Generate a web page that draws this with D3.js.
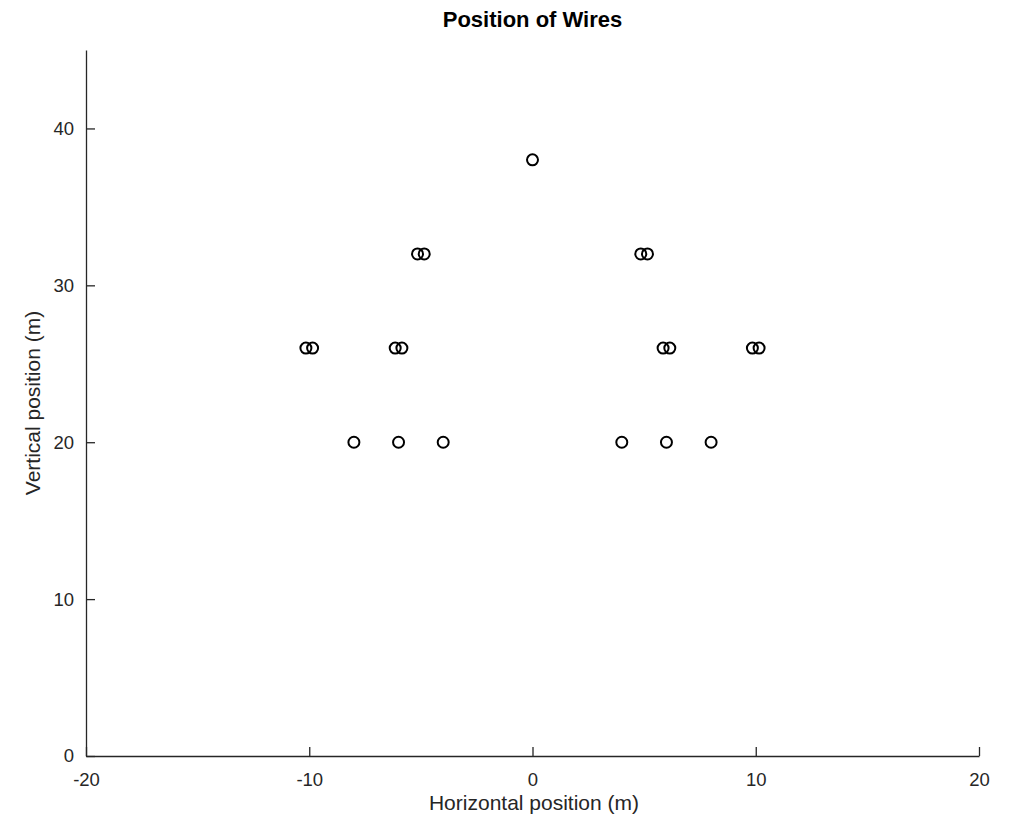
<!DOCTYPE html>
<html>
<head>
<meta charset="utf-8">
<script src="https://cdn.jsdelivr.net/npm/d3@7"></script>
<style>
  body { margin: 0; background: #fff; }
  svg text { font-family: "Liberation Sans", Arial, sans-serif; }
</style>
</head>
<body>
<svg id="chart" width="1020" height="819"></svg>
<script>
// wire positions (m)
const wireX = [0, -5.15, -4.85, 4.85, 5.15, -10.15, -9.85, -6.15, -5.85, 5.85, 6.15, 9.85, 10.15, -8, -6, -4, 4, 6, 8];
const wireY = [38, 32, 32, 32, 32, 26, 26, 26, 26, 26, 26, 26, 26, 20, 20, 20, 20, 20, 20];
const xTicks = [-20, -10, 0, 10, 20];
const yTicks = [0, 10, 20, 30, 40];

var svg = d3.select("#chart");
var mLeft = 86, mRight = 979, mTop = 50, mBottom = 756;

var x = d3.scaleLinear().domain([-20, 20]).range([mLeft, mRight]);
var y = d3.scaleLinear().domain([0, 45]).range([mBottom, mTop]);

var axisColor = "#262626";
var fmt = function (d) { return String(d); };

var gx = svg.append("g")
    .attr("transform", "translate(0," + mBottom + ")")
    .call(d3.axisBottom(x).tickValues(xTicks).tickFormat(fmt).tickSize(-9).tickPadding(17).tickSizeOuter(0));
var gy = svg.append("g")
    .attr("transform", "translate(" + mLeft + ",0)")
    .call(d3.axisLeft(y).tickValues(yTicks).tickFormat(fmt).tickSize(-9).tickPadding(12).tickSizeOuter(0));

[gx, gy].forEach(function (g) {
    g.select(".domain").attr("stroke", axisColor).attr("stroke-width", 1.3);
    g.selectAll(".tick line").attr("stroke", axisColor).attr("stroke-width", 1.3);
    g.selectAll(".tick text").attr("fill", axisColor).style("font-size", "18.5px");
});

var data = wireX.map(function (d, i) { return { x: d, y: wireY[i] }; });

svg.append("g").selectAll("circle")
    .data(data)
    .enter()
    .append("circle")
    .attr("cx", function (d) { return x(d.x); })
    .attr("cy", function (d) { return y(d.y); })
    .attr("r", 5.5)
    .attr("fill", "none")
    .attr("stroke", "#000")
    .attr("stroke-width", 2);

svg.append("text")
    .attr("x", (mLeft + mRight) / 2)
    .attr("y", 27)
    .attr("text-anchor", "middle")
    .style("font-size", "22px")
    .style("font-weight", "bold")
    .attr("fill", "#000")
    .text("Position of Wires");

svg.append("text")
    .attr("x", 534)
    .attr("y", 810)
    .attr("text-anchor", "middle")
    .style("font-size", "21px")
    .attr("fill", axisColor)
    .text("Horizontal position (m)");

svg.append("text")
    .attr("transform", "translate(40,403) rotate(-90)")
    .attr("text-anchor", "middle")
    .style("font-size", "21px")
    .attr("fill", axisColor)
    .text("Vertical position (m)");
</script>
</body>
</html>
